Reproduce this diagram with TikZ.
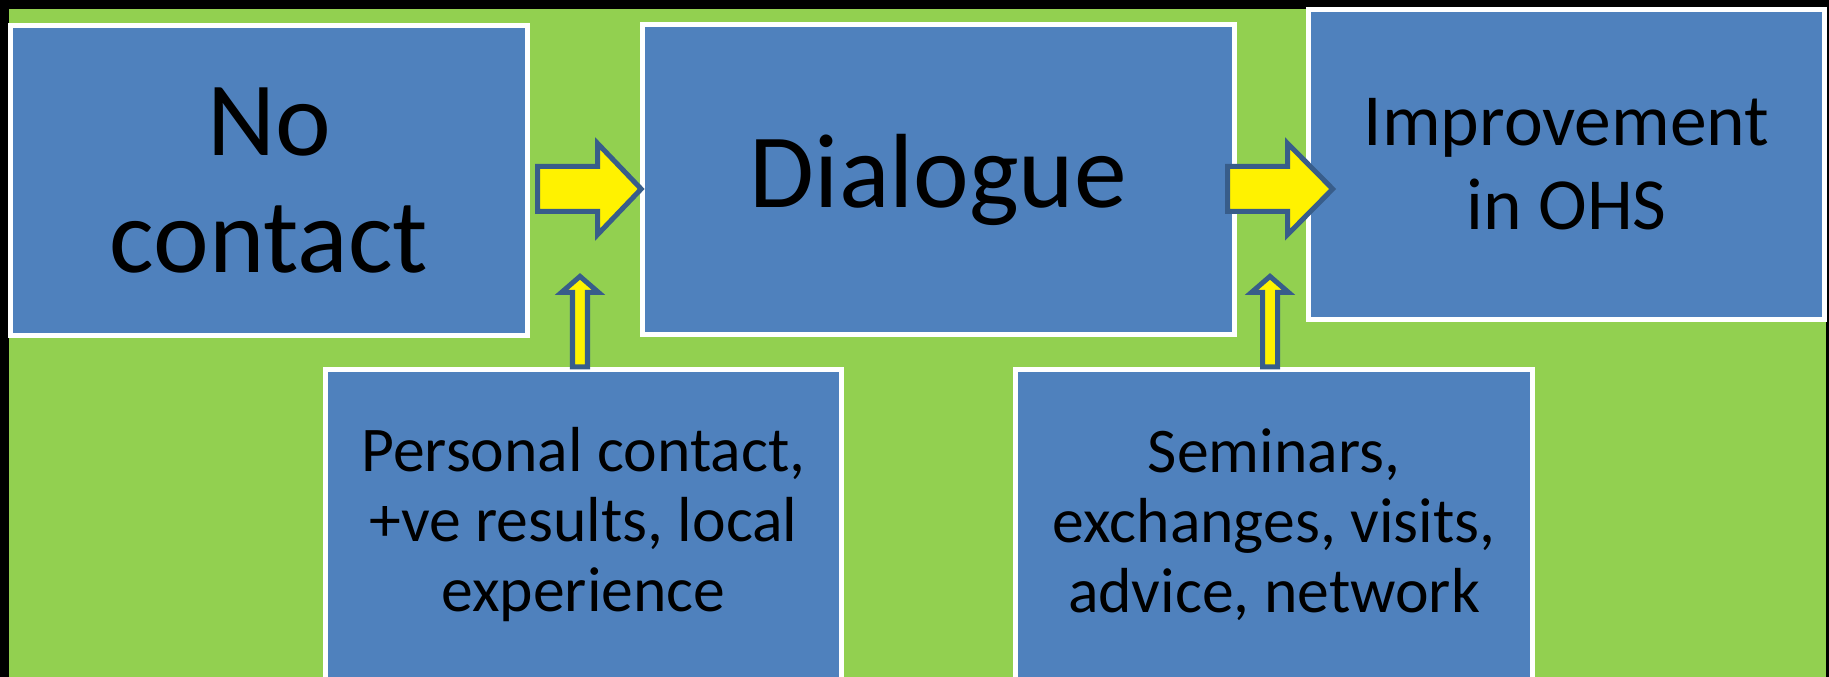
\documentclass[tikz,border=0pt]{standalone}
\usepackage{fontspec}
\setmainfont{Carlito}
\definecolor{leaf}{HTML}{92D050}
\definecolor{boxblue}{HTML}{4F81BD}
\definecolor{arrowedge}{HTML}{385D8A}

\begin{document}
\begin{tikzpicture}[x=0.01cm, y=-0.01cm,
 box/.style = {rectangle, draw=white, fill=boxblue, line width=0.05cm, inner sep=0pt, align=center, minimum height=3.1cm},
 blockarrow/.style = {draw=arrowedge, fill=yellow, line width=0.05cm}]
\useasboundingbox (0,0) rectangle (1829,677);
% black frame and green ground
\fill[black] (0,0) rectangle (1829,677);
\fill[leaf] (9,9) rectangle (1826,677);

% top row
\node[box, minimum width=5.17cm, font=\fontsize{30}{33.3}\selectfont] (nocontact) at (269,180.5) {No\\contact};
\node[box, minimum width=5.92cm, font=\fontsize{30}{33.3}\selectfont] (dialogue) at (938.5,179.5) {Dialogue};
\node[box, minimum width=5.16cm, font=\fontsize{20.9}{23.9}\selectfont] (improvement) at (1566.5,164.5) {Improvement\\in OHS};

% bottom row
\node[box, minimum width=5.16cm, font=\fontsize{18.1}{19.9}\selectfont] (personal) at (583.5,524.5) {Personal contact,\\+ve results, local\\experience};
\node[box, minimum width=5.17cm, font=\fontsize{18.1}{19.9}\selectfont] (seminars) at (1274,524.5) {Seminars,\\exchanges, visits,\\advice, network};

% right arrows
\draw[blockarrow] ([xshift=0.075cm]nocontact.east |- 0,189) -- ++(0,-22.5) -- ++(60,0) -- ++(0,-23) -- ++(43.5,45.5) -- ++(-43.5,45.5) -- ++(0,-23) -- ++(-60,0) -- cycle;
\draw[blockarrow] ([xshift=-0.095cm]dialogue.east |- 0,189) -- ++(0,-22.5) -- ++(60,0) -- ++(0,-23) -- ++(45,45.5) -- ++(-45,45.5) -- ++(0,-23) -- ++(-60,0) -- cycle;

% up arrows
\draw[blockarrow] ([xshift=-0.035cm]personal.north) -- ++(7.5,0) -- ++(0,-74.5) -- ++(11,0) -- ++(-18.5,-16) -- ++(-18.5,16) -- ++(11,0) -- ++(0,74.5) -- cycle;
\draw[blockarrow] ([xshift=-0.04cm]seminars.north) -- ++(7.5,0) -- ++(0,-74.5) -- ++(11,0) -- ++(-18.5,-16) -- ++(-18.5,16) -- ++(11,0) -- ++(0,74.5) -- cycle;
\end{tikzpicture}
\end{document}
